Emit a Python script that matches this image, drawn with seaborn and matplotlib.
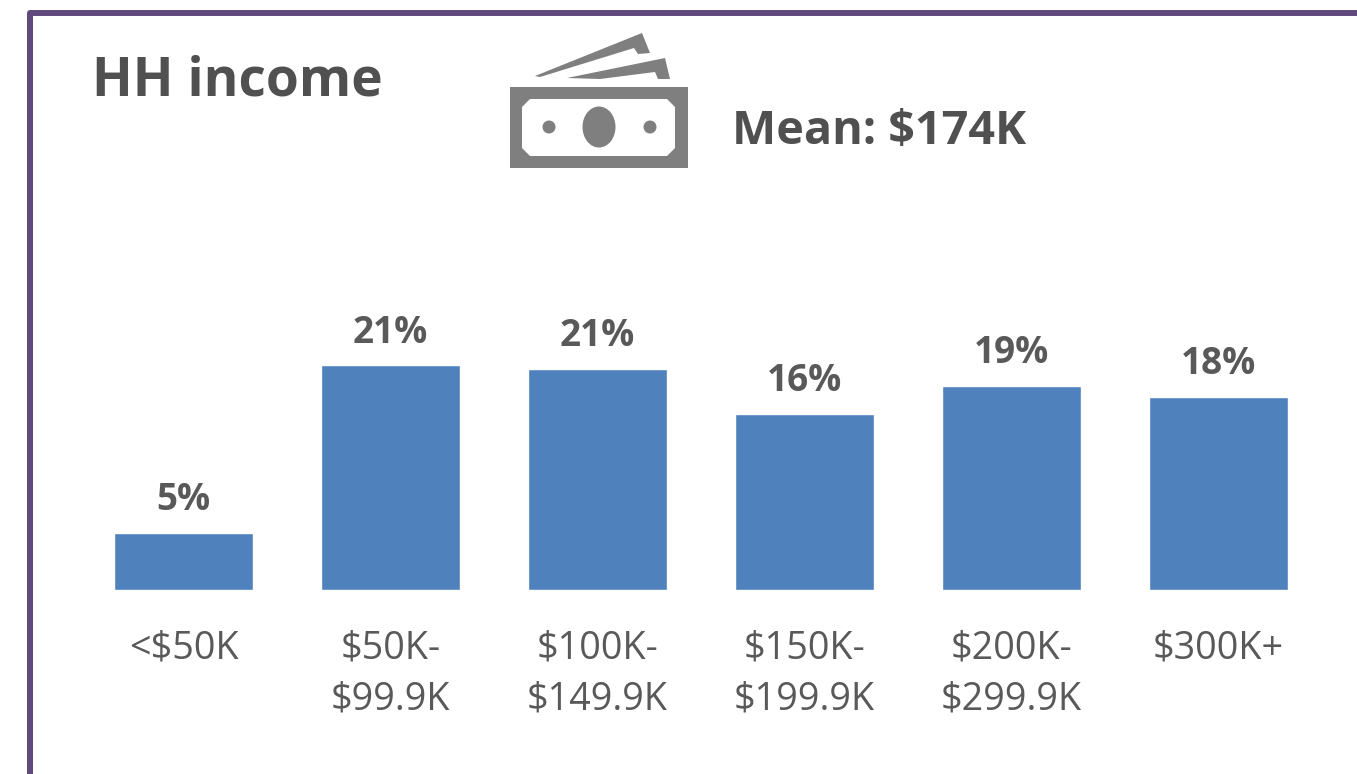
import matplotlib
matplotlib.use("Agg")
import matplotlib.pyplot as plt
from matplotlib.patches import Polygon, Ellipse, Circle
import pandas as pd
import seaborn as sns

categories = ["<$50K", "$50K-\n$99.9K", "$100K-\n$149.9K", "$150K-\n$199.9K", "$200K-\n$299.9K", "$300K+"]
values = [5.25, 20.9, 20.6, 16.4, 19.0, 18.0]
labels = ["5%", "21%", "21%", "16%", "19%", "18%"]
title = "HH income"
mean_text = "Mean: $174K"

W, H = 1357, 774
sns.set_theme(style="white")
plt.rcParams["font.family"] = ["Open Sans", "DejaVu Sans"]
fig = plt.figure(figsize=(W/100, H/100), dpi=100)
fig.patch.set_facecolor("white")

ax = fig.add_axes([80/W, 1-589.5/H, 1242/W, 289.5/H])
df = pd.DataFrame({"cat": categories, "val": values})
sns.barplot(data=df, x="cat", y="val", color="#4F81BD", saturation=1, width=0.667, ax=ax)
ax.set_ylim(0, 27)
ax.set_xlim(-0.5, 5.5)
ax.set_xlabel(""); ax.set_ylabel("")
ax.set_yticks([])
ax.set_xticks(range(6))
ax.set_xticklabels(categories, fontsize=27.2, color="#595959", linespacing=1.43, va="top")
ax.tick_params(axis="x", length=0, pad=29)
for s in ax.spines.values():
    s.set_visible(False)
ax.patch.set_alpha(0)
for i, (v, l) in enumerate(zip(values, labels)):
    ax.annotate(l, (i, v), xytext=(0, 10), textcoords="offset points", ha="center", va="bottom",
                fontsize=26.6, fontweight="bold", color="#595959")

ov = fig.add_axes([0, 0, 1, 1], zorder=5)
ov.set_xlim(0, W); ov.set_ylim(H, 0); ov.axis("off"); ov.patch.set_alpha(0)
purple = "#604A7B"
ov.plot([30, 30, W + 5], [H + 5, 13, 13], color=purple, lw=4.3, solid_joinstyle="round", solid_capstyle="butt")
ov.text(92.5, 82, title, fontsize=38.3, fontweight="bold", color="#505050", va="center", ha="left")
ov.text(731.5, 131, mean_text, fontsize=33.7, fontweight="bold", color="#505050", va="center", ha="left")

grey = "#7F7F7F"
ov.add_patch(Polygon([(510, 87), (688, 87), (688, 168), (510, 168)], fc=grey, ec="none"))
ov.add_patch(Polygon([(530, 99), (667, 99), (675, 107), (675, 148), (667, 156), (530, 156), (522, 148), (522, 107)], fc="white", ec="none"))
ov.add_patch(Ellipse((599, 127), 33, 41, fc=grey, ec="none"))
ov.add_patch(Circle((549, 127), 6.5, fc=grey, ec="none"))
ov.add_patch(Circle((650, 127), 6.5, fc=grey, ec="none"))
ov.add_patch(Polygon([(535, 76), (642, 33), (650, 53), (638, 54), (634, 48), (540, 77)], fc=grey, ec="none"))
ov.add_patch(Polygon([(567, 78), (665, 58), (670, 79), (658, 79), (655, 72), (600, 79)], fc=grey, ec="none"))

fig.savefig("out.png", dpi=100)
